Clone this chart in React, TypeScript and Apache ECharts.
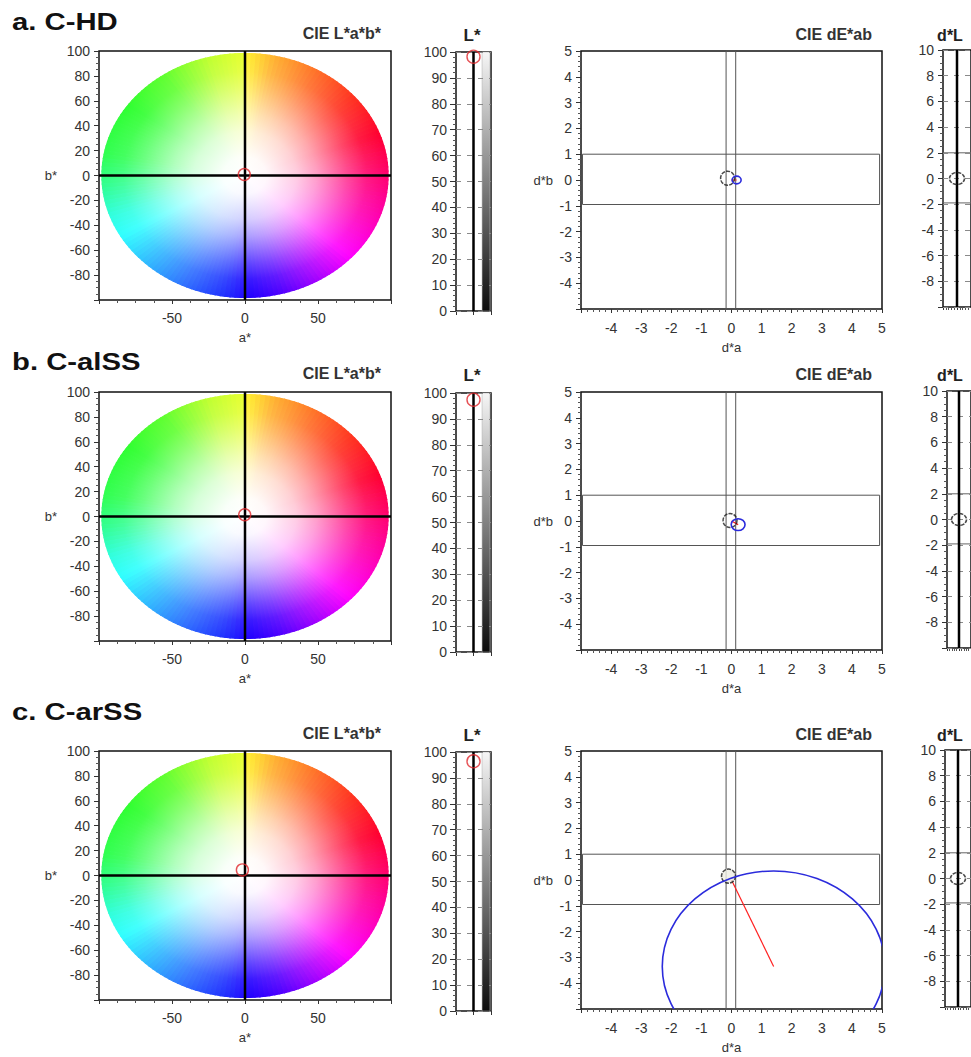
import React, { useEffect, useRef } from "react";
import * as echarts from "echarts";

// ---------------- data ----------------
const ROW_LABELS = ["a. C-HD", "b. C-alSS", "c. C-arSS"];
// CIE L*a*b* sample position (a*, b*) per row
const LAB_A = [-0.5, -0.2, -1.8];
const LAB_B = [0.8, 1.4, 4.5];
// L* per row
const L_STAR = [98.2, 97.4, 96.4];
// dE*ab: reference marker (black)
const REF_DA = [-0.13, -0.05, -0.1];
const REF_DB = [0.07, 0.02, 0.15];
// dE*ab: sample difference (blue circle centre) and its radius
const SMP_DA = [0.17, 0.22, 1.4];
const SMP_DB = [0.0, -0.14, -3.35];
const SMP_R = [0.15, 0.23, 3.7];
// d*L marker per row
const DL_VAL = [0, 0, 0];
// tolerance boxes [x1, y1, x2, y2]
const DE_BAND_H = [-4.95, -0.95, 4.92, 1.0];
const DE_BAND_V = [-0.18, -5, 0.14, 5];
const DL_BAND = [-1, -1.9, 1, 2];
// colour disc radius in a*/b* units
const DISC_R = 98;

// hue key colours of the a*b* disc (angle in degrees from +a*)
const HUE_DEG = [0, 20, 40, 60, 78, 89.5, 90.5, 105, 125, 145, 170, 185, 200, 210, 225, 245, 262, 272, 285, 300, 318, 340, 360];
const HUE_COL = [
  "#ff0070", "#ff0030", "#ff3020", "#ff7028", "#ffb030", "#fff030", "#e8ff30", "#c0ff30",
  "#60ff30", "#30ff30", "#30ff50", "#30ff90", "#30ffe0", "#30ffff", "#30c0ff", "#3070ff",
  "#2030ff", "#2000ff", "#5000ff", "#a000ff", "#ff00ff", "#ff00b0", "#ff0070",
];
const RAD_T = [0, 0.15, 0.36, 0.5, 0.72, 0.85, 1];
const RAD_M = [0, 0.03, 0.2, 0.38, 0.72, 0.9, 1];

// ---------------- layout ----------------
const ROW_OFFSET = [0, 341, 700];
const HEAD_OFFSET = [0, 340, 700];
const ROW_LABEL_Y = [22, 362, 712];
const DL_LEFT = [943, 947, 945];

const FONT = '"Liberation Sans", Arial, Helvetica, sans-serif';

function hexToRgb(h: string) {
  const n = parseInt(h.slice(1), 16);
  return [(n >> 16) & 255, (n >> 8) & 255, n & 255];
}
function hueRgb(deg: number) {
  let d = ((deg % 360) + 360) % 360;
  for (let i = 0; i < HUE_DEG.length - 1; i++) {
    if (d >= HUE_DEG[i] && d <= HUE_DEG[i + 1]) {
      const t = (d - HUE_DEG[i]) / (HUE_DEG[i + 1] - HUE_DEG[i]);
      const a = hexToRgb(HUE_COL[i]);
      const b = hexToRgb(HUE_COL[i + 1]);
      return [0, 1, 2].map((k) => a[k] + (b[k] - a[k]) * t);
    }
  }
  return hexToRgb(HUE_COL[0]);
}
function mixWhite(rgb: number[], m: number) {
  const c = rgb.map((v) => Math.round(255 + (v - 255) * m));
  return `rgb(${c[0]},${c[1]},${c[2]})`;
}

function axisBase(gridIndex: number, min: number, max: number, interval: number) {
  return {
    type: "value",
    gridIndex,
    min,
    max,
    interval,
    axisLine: { show: false, onZero: false },
    axisTick: { show: true, length: 5, lineStyle: { color: "#333", width: 1 } },
    minorTick: { show: true, splitNumber: 4, length: 3, lineStyle: { color: "#555" } },
    axisLabel: { color: "#333", fontSize: 14, fontFamily: FONT, margin: 9 },
    splitLine: { show: false },
    minorSplitLine: { show: false },
  };
}

function buildOption() {
  const grids: any[] = [];
  const xAxes: any[] = [];
  const yAxes: any[] = [];
  const series: any[] = [];
  const graphics: any[] = [];
  const gridStyle = { show: true, borderColor: "#111", borderWidth: 1.5, backgroundColor: "rgba(0,0,0,0)" };
  const refMarker = { borderColor: "#1a1a1a", borderWidth: 1.5, borderType: [4, 1.2] };

  for (let r = 0; r < 3; r++) {
    const o = ROW_OFFSET[r];
    const h = HEAD_OFFSET[r];
    const g = grids.length;
    grids.push({ left: 99, top: 51 + o, width: 292, height: 249, ...gridStyle });
    grids.push({ left: 456, top: 52 + o, width: 35, height: 259, ...gridStyle });
    grids.push({ left: 581, top: 51 + o, width: 301, height: 258, ...gridStyle });
    grids.push({ left: DL_LEFT[r], top: 50 + o, width: 29, height: 257, ...gridStyle });

    // ---- LAB axes
    const labX: any = axisBase(g, -100, 100, 50);
    labX.axisLabel = { ...labX.axisLabel, margin: 11, showMinLabel: false, showMaxLabel: false };
    labX.axisTick.length = 4;
    labX.name = "a*";
    labX.nameLocation = "middle";
    labX.nameGap = 31;
    labX.nameTextStyle = { color: "#333", fontSize: 13, fontFamily: FONT };
    xAxes.push(labX);
    const labY: any = axisBase(g, -100, 100, 20);
    labY.axisLabel = { ...labY.axisLabel, showMinLabel: false };
    labY.name = "b*";
    labY.nameLocation = "middle";
    labY.nameRotate = 0;
    labY.nameGap = 42;
    labY.nameTextStyle = { color: "#333", fontSize: 13, fontFamily: FONT };
    yAxes.push(labY);

    // ---- L* axes
    const lx: any = axisBase(g + 1, -1, 1, 1);
    lx.axisLabel = { show: false };
    lx.minorTick = { show: false };
    lx.axisTick.length = 4;
    xAxes.push(lx);
    const ly: any = axisBase(g + 1, 0, 100, 10);
    ly.minorTick.splitNumber = 5;
    ly.axisTick.length = 6;
    ly.axisLabel.margin = 9;
    ly.splitLine = { show: true, lineStyle: { color: "#8a8a8a", type: [5, 6], width: 1 } };
    ly.z = 3;
    yAxes.push(ly);

    // ---- dE axes
    const dx: any = axisBase(g + 2, -5, 5, 1);
    dx.minorTick.splitNumber = 5;
    dx.axisTick.length = 4;
    dx.axisLabel = { ...dx.axisLabel, margin: 12, showMinLabel: false };
    dx.name = "d*a";
    dx.nameLocation = "middle";
    dx.nameGap = 32;
    dx.nameTextStyle = { color: "#333", fontSize: 13, fontFamily: FONT };
    xAxes.push(dx);
    const dy: any = axisBase(g + 2, -5, 5, 1);
    dy.minorTick.splitNumber = 5;
    dy.axisLabel = { ...dy.axisLabel, showMinLabel: false };
    dy.name = "d*b";
    dy.nameLocation = "middle";
    dy.nameRotate = 0;
    dy.nameGap = 28;
    dy.nameTextStyle = { color: "#333", fontSize: 13, fontFamily: FONT };
    yAxes.push(dy);

    // ---- d*L axes
    const lx2: any = axisBase(g + 3, -1, 1, 1);
    lx2.axisLabel = { show: false };
    lx2.axisTick.length = 3;
    lx2.minorTick = { show: true, splitNumber: 5, length: 3, lineStyle: { color: "#555" } };
    xAxes.push(lx2);
    const ly2: any = axisBase(g + 3, -10, 10, 2);
    ly2.axisLabel = { ...ly2.axisLabel, showMinLabel: false };
    ly2.splitLine = { show: true, lineStyle: { color: "#8a8a8a", type: [5, 6], width: 1 } };
    ly2.z = 3;
    yAxes.push(ly2);

    // ---- LAB colour disc
    series.push({
      type: "custom",
      xAxisIndex: g,
      yAxisIndex: g,
      silent: true,
      z: 1,
      data: [[0, 0]],
      renderItem: (params: any, api: any) => {
        const c = api.coord([0, 0]);
        const N = 180;
        const children: any[] = [];
        for (let i = 0; i < N; i++) {
          const t0 = (i * 360) / N;
          const t1 = ((i + 1) * 360) / N;
          const tm = (t0 + t1) / 2;
          const rad = Math.PI / 180;
          const p0 = api.coord([DISC_R * Math.cos(t0 * rad), DISC_R * Math.sin(t0 * rad)]);
          const p1 = api.coord([DISC_R * Math.cos(t1 * rad), DISC_R * Math.sin(t1 * rad)]);
          const pm = api.coord([DISC_R * Math.cos(tm * rad), DISC_R * Math.sin(tm * rad)]);
          const rgb = hueRgb(tm);
          const stops = RAD_T.map((t, k) => ({ offset: t, color: mixWhite(rgb, RAD_M[k]) }));
          const grad = new echarts.graphic.LinearGradient(c[0], c[1], pm[0], pm[1], stops, true);
          children.push({
            type: "polygon",
            shape: { points: [c, p0, p1] },
            style: { fill: grad, stroke: grad, lineWidth: 1.2 },
          });
        }
        return { type: "group", children };
      },
    });
    // cross lines on LAB
    series.push({
      type: "line", xAxisIndex: g, yAxisIndex: g, silent: true, symbol: "none", z: 3,
      data: [[-100, 0], [100, 0]], lineStyle: { color: "#000", width: 2.5 },
    });
    series.push({
      type: "line", xAxisIndex: g, yAxisIndex: g, silent: true, symbol: "none", z: 3,
      data: [[0, -100], [0, 100]], lineStyle: { color: "#000", width: 2.5 },
    });
    series.push({
      type: "scatter", xAxisIndex: g, yAxisIndex: g, silent: true, z: 5,
      symbol: "circle", symbolSize: 12,
      data: [[LAB_A[r], LAB_B[r]]],
      itemStyle: { color: "rgba(0,0,0,0)", borderColor: "#e0262b", borderWidth: 1.4 },
    });

    // ---- L* bar
    series.push({
      type: "custom", xAxisIndex: g + 1, yAxisIndex: g + 1, silent: true, z: 1,
      data: [[0.49, 0, 0.94, 100]],
      encode: { x: [0, 2], y: [1, 3] },
      renderItem: (params: any, api: any) => {
        const p1 = api.coord([api.value(0), api.value(3)]);
        const p2 = api.coord([api.value(2), api.value(1)]);
        return {
          type: "rect",
          shape: { x: p1[0], y: p1[1], width: p2[0] - p1[0], height: p2[1] - p1[1] },
          style: {
            fill: new echarts.graphic.LinearGradient(0, 0, 0, 1, [
              { offset: 0, color: "#f6f6f6" },
              { offset: 1, color: "#0c0c0c" },
            ]),
            stroke: "#aaa",
            lineWidth: 0.5,
          },
        };
      },
    });
    series.push({
      type: "line", xAxisIndex: g + 1, yAxisIndex: g + 1, silent: true, symbol: "none", z: 4,
      data: [[0, 0], [0, 100]], lineStyle: { color: "#000", width: 2.5 },
    });
    series.push({
      type: "scatter", xAxisIndex: g + 1, yAxisIndex: g + 1, silent: true, z: 5,
      symbol: "circle", symbolSize: 13,
      data: [[0, L_STAR[r]]],
      itemStyle: { color: "rgba(0,0,0,0)", borderColor: "#e0262b", borderWidth: 1.4 },
    });

    // ---- dE*ab
    series.push({
      type: "custom", xAxisIndex: g + 2, yAxisIndex: g + 2, silent: true, z: 2,
      data: [DE_BAND_H, DE_BAND_V],
      encode: { x: [0, 2], y: [1, 3] },
      renderItem: (params: any, api: any) => {
        const p1 = api.coord([api.value(0), api.value(3)]);
        const p2 = api.coord([api.value(2), api.value(1)]);
        return {
          type: "rect",
          shape: { x: p1[0], y: p1[1], width: p2[0] - p1[0], height: p2[1] - p1[1] },
          style: { fill: "rgba(0,0,0,0)", stroke: "#555", lineWidth: 1 },
        };
      },
    });
    series.push({
      type: "line", xAxisIndex: g + 2, yAxisIndex: g + 2, silent: true, symbol: "none", z: 3,
      data: [[0, 0], [SMP_DA[r], SMP_DB[r]]], lineStyle: { color: "#ff2020", width: 1.2 },
    });
    series.push({
      type: "scatter", xAxisIndex: g + 2, yAxisIndex: g + 2, silent: true, z: 4,
      symbol: "circle", symbolSize: 14,
      data: [[REF_DA[r], REF_DB[r]]],
      itemStyle: { color: r === 2 ? "#eeeee4" : "rgba(0,0,0,0)", ...refMarker },
    });
    series.push({
      type: "custom", xAxisIndex: g + 2, yAxisIndex: g + 2, silent: true, z: 5,
      data: [[SMP_DA[r], SMP_DB[r], SMP_R[r]]],
      renderItem: (params: any, api: any) => {
        const c = api.coord([api.value(0), api.value(1)]);
        const rad = api.value(2);
        const s = api.size([rad, rad]);
        const cs = params.coordSys;
        return {
          type: "ellipse",
          shape: { cx: c[0], cy: c[1], rx: s[0], ry: s[1] },
          style: { fill: "rgba(0,0,0,0)", stroke: "#2b2bdc", lineWidth: 1.6 },
          clipPath: { type: "rect", shape: { x: cs.x, y: cs.y, width: cs.width, height: cs.height } },
        };
      },
    });

    // ---- d*L
    series.push({
      type: "custom", xAxisIndex: g + 3, yAxisIndex: g + 3, silent: true, z: 2,
      data: [DL_BAND],
      encode: { x: [0, 2], y: [1, 3] },
      renderItem: (params: any, api: any) => {
        const p1 = api.coord([api.value(0), api.value(3)]);
        const p2 = api.coord([api.value(2), api.value(1)]);
        return {
          type: "rect",
          shape: { x: p1[0], y: p1[1], width: p2[0] - p1[0], height: p2[1] - p1[1] },
          style: { fill: "rgba(0,0,0,0)", stroke: "#666", lineWidth: 1 },
        };
      },
    });
    series.push({
      type: "line", xAxisIndex: g + 3, yAxisIndex: g + 3, silent: true, symbol: "none", z: 4,
      data: [[0, -10], [0, 10]], lineStyle: { color: "#000", width: 2.5 },
    });
    series.push({
      type: "scatter", xAxisIndex: g + 3, yAxisIndex: g + 3, silent: true, z: 5,
      symbol: "circle", symbolSize: [15, 12],
      data: [[0, DL_VAL[r]]],
      itemStyle: { color: "rgba(0,0,0,0)", ...refMarker },
    });

    // ---- texts
    graphics.push({
      type: "text", x: 12, y: ROW_LABEL_Y[r], scaleX: 1.22,
      style: { text: ROW_LABELS[r], fontSize: 24, fontWeight: "bold", fontFamily: FONT, fill: "#111", verticalAlign: "middle" },
    });
    graphics.push({
      type: "text", x: 381, y: 33 + h,
      style: { text: "CIE L*a*b*", fontSize: 16, fontWeight: "bold", fontFamily: FONT, fill: "#333", align: "right", verticalAlign: "middle" },
    });
    graphics.push({
      type: "text", x: 472, y: 35 + h,
      style: { text: "L*", fontSize: 17, fontWeight: "bold", fontFamily: FONT, fill: "#222", align: "center", verticalAlign: "middle" },
    });
    graphics.push({
      type: "text", x: 872, y: 34 + h,
      style: { text: "CIE dE*ab", fontSize: 16, fontWeight: "bold", fontFamily: FONT, fill: "#333", align: "right", verticalAlign: "middle" },
    });
    graphics.push({
      type: "text", x: 950, y: 35 + h,
      style: { text: "d*L", fontSize: 16, fontWeight: "bold", fontFamily: FONT, fill: "#222", align: "center", verticalAlign: "middle" },
    });
  }

  return {
    animation: false,
    backgroundColor: "#ffffff",
    textStyle: { fontFamily: FONT },
    grid: grids,
    xAxis: xAxes,
    yAxis: yAxes,
    series,
    graphic: graphics,
  };
}

export default function App() {
  const ref = useRef<HTMLDivElement>(null);
  useEffect(() => {
    if (!ref.current) return;
    const chart = echarts.init(ref.current, null, { renderer: "svg" });
    chart.setOption(buildOption() as any);
    return () => chart.dispose();
  }, []);
  return (
    <div
      ref={ref}
      style={{ position: "absolute", left: 0, top: 0, width: 971, height: 1057 }}
    />
  );
}
